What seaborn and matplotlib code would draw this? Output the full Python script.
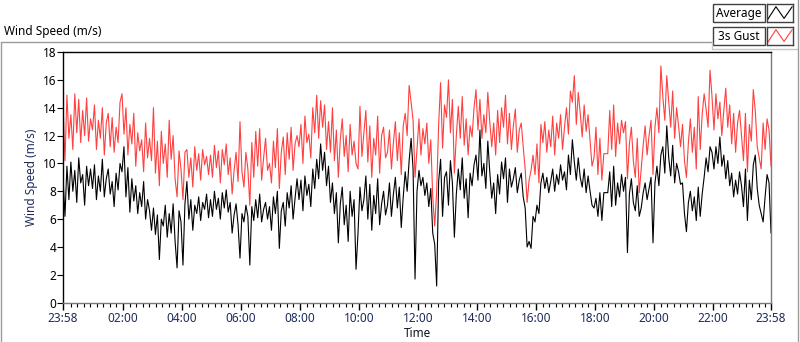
import numpy as np
import pandas as pd
import matplotlib
matplotlib.use("Agg")
import matplotlib.pyplot as plt
import seaborn as sns
from matplotlib.patches import Rectangle
from matplotlib.lines import Line2D

# one sample every 4 minutes, minutes after 23:58
minutes = list(range(0, 1441, 4))

# 10-min average wind speed (m/s)
avg_speed = [
    9.0, 6.2, 9.8, 7.4, 10.1, 8.0, 9.5, 7.2, 10.4, 8.6, 9.2, 7.0, 9.8, 8.4, 9.6,      # 23:58
    8.2, 9.9, 7.4, 9.1, 8.0, 10.3, 7.6, 8.9, 9.6, 7.8, 8.7, 6.9, 9.3, 8.1, 10.0,      # 00:58
    9.4, 11.2, 7.6, 9.7, 6.5, 8.9, 7.3, 8.4, 6.4, 7.9, 6.9, 8.7, 6.0, 7.4, 6.6,       # 01:58
    5.2, 6.8, 4.9, 6.3, 3.1, 6.0, 5.5, 7.0, 4.7, 6.4, 5.0, 7.1, 4.4, 2.5, 6.6,        # 02:58
    5.8, 2.7, 7.1, 8.7, 6.0, 7.4, 5.2, 7.0, 6.4, 7.6, 5.9, 7.2, 6.7, 7.8, 6.1,        # 03:58
    7.4, 6.2, 8.0, 6.7, 7.5, 6.0, 7.9, 6.8, 8.1, 6.5, 7.2, 5.0, 6.3, 7.1, 5.6,        # 04:58
    3.2, 6.4, 5.8, 7.0, 6.2, 2.7, 6.9, 5.9, 7.4, 6.1, 7.8, 5.8, 6.7, 7.2, 6.0,        # 05:58
    6.9, 5.2, 7.6, 6.4, 8.0, 3.9, 6.6, 7.2, 5.5, 7.9, 6.8, 8.4, 6.0, 7.5, 8.9,        # 06:58
    7.4, 8.8, 6.6, 9.1, 7.7, 8.5, 6.9, 9.6, 8.2, 10.3, 8.9, 11.4, 9.5, 10.8, 8.4,     # 07:58
    9.8, 7.2, 8.6, 6.4, 7.9, 4.3, 7.1, 8.3, 5.6, 7.0, 4.4, 8.0, 6.2, 7.4, 2.4,        # 08:58
    5.0, 8.3, 6.6, 7.4, 9.1, 6.0, 8.5, 5.2, 7.7, 6.4, 8.9, 5.6, 7.1, 8.0, 6.3,        # 09:58
    7.0, 8.6, 6.2, 7.8, 9.0, 6.8, 8.3, 5.4, 7.6, 9.4, 8.0, 10.2, 11.8, 9.6, 1.7,      # 10:58
    8.0, 9.5, 8.4, 9.0, 7.7, 8.6, 6.9, 8.2, 5.0, 4.2, 1.2, 8.7, 10.3, 6.2, 9.0,       # 11:58
    9.4, 7.0, 10.2, 8.6, 4.7, 7.8, 9.6, 8.1, 10.4, 7.5, 8.9, 6.1, 9.3, 8.4, 9.9,      # 12:58
    10.6, 8.8, 12.4, 9.1, 10.0, 8.2, 11.6, 9.4, 7.5, 8.6, 6.4, 9.2, 7.8, 10.1, 8.9,   # 13:58
    10.4, 7.2, 9.6, 8.3, 8.9, 9.7, 7.9, 8.8, 9.3, 7.6, 6.8, 4.0, 4.4, 3.9, 6.2,       # 14:58
    5.8, 7.0, 6.4, 8.6, 9.3, 8.2, 9.0, 7.9, 8.7, 9.6, 8.0, 9.2, 8.5, 9.9, 8.8,        # 15:58
    9.4, 8.1, 10.6, 9.2, 11.7, 10.1, 8.8, 10.4, 9.0, 8.3, 9.6, 7.9, 9.1, 8.0, 7.0,    # 16:58
    6.8, 7.5, 6.2, 7.9, 5.9, 7.9, 7.9, 7.9, 9.4, 6.9, 9.8, 7.0, 8.6, 7.6, 9.2,        # 17:58
    8.0, 9.0, 3.6, 7.8, 8.9, 7.2, 6.6, 8.4, 6.2, 6.8, 7.9, 8.6, 7.4, 8.2, 9.0,        # 18:58
    4.3, 8.6, 9.8, 8.4, 10.6, 11.2, 9.3, 12.7, 10.4, 9.1, 11.3, 8.6, 10.0, 9.4, 8.5,  # 19:58
    8.6, 6.4, 5.1, 7.2, 8.0, 6.6, 7.6, 5.9, 8.3, 6.2, 7.8, 9.0, 10.4, 9.4, 11.2,      # 20:58
    10.8, 9.6, 11.2, 10.0, 11.9, 9.8, 10.6, 8.9, 10.2, 8.4, 9.3, 7.6, 8.8, 7.8, 9.4,  # 21:58
    8.4, 6.9, 9.6, 5.9, 8.8, 7.4, 9.9, 10.6, 8.2, 7.0, 6.4, 5.8, 7.6, 9.2, 8.6, 5.0,  # 22:58
]

# 3 s gust wind speed (m/s)
gust_speed = [
    14.3, 10.2, 14.9, 11.8, 13.5, 11.0, 15.0, 12.2, 14.6, 11.5, 13.8, 12.0, 14.7, 11.6, 13.2,
    12.4, 14.2, 11.0, 13.1, 11.8, 14.0, 10.6, 12.9, 13.6, 11.2, 13.3, 10.8, 12.6, 11.5, 14.4,
    15.0, 12.1, 14.0, 10.6, 12.8, 11.4, 13.6, 9.8, 12.2, 10.9, 11.7, 9.4, 12.9, 10.4, 11.8,
    10.2, 14.0, 9.3, 11.6, 8.4, 12.3, 10.0, 11.4, 9.0, 13.1, 10.3, 12.0, 8.9, 7.6, 10.9,
    9.6, 7.4, 10.8, 11.0, 9.0, 10.4, 8.3, 11.2, 9.5, 10.7, 8.8, 11.0, 9.9, 10.5, 9.2,
    10.6, 9.0, 11.3, 9.7, 10.9, 8.6, 11.0, 9.9, 11.4, 9.2, 10.4, 7.8, 9.5, 10.8, 8.7,
    13.0, 9.4, 8.3, 10.8, 9.6, 7.0, 11.5, 9.0, 12.3, 9.8, 12.5, 8.8, 10.4, 11.8, 9.5,
    10.0, 8.6, 11.6, 9.7, 12.5, 8.2, 10.8, 11.9, 9.2, 12.2, 10.3, 12.6, 9.5, 11.4, 12.0,
    11.2, 12.8, 10.0, 13.4, 11.5, 12.1, 10.4, 14.0, 12.2, 14.9, 11.8, 14.5, 12.6, 14.2, 11.0,
    13.0, 10.8, 14.0, 10.2, 12.4, 9.0, 11.7, 13.2, 10.5, 12.0, 9.4, 12.8, 10.6, 11.6, 10.0,
    9.6, 14.1, 10.5, 12.2, 13.8, 10.1, 12.7, 9.0, 11.8, 10.6, 13.4, 9.3, 12.0, 12.6, 10.4,
    10.8, 12.4, 9.6, 11.5, 13.0, 10.2, 12.2, 9.2, 12.7, 13.6, 12.0, 15.6, 14.4, 13.1, 9.0,
    11.0, 13.2, 10.6, 12.5, 11.4, 12.9, 10.0, 11.7, 7.6, 5.5, 8.0, 12.8, 15.8, 11.1, 14.2,
    13.3, 16.0, 12.2, 14.6, 9.3, 12.0, 14.1, 11.8, 14.8, 11.3, 13.2, 10.6, 12.7, 11.9, 14.0,
    15.3, 12.4, 14.6, 11.8, 13.5, 12.2, 15.1, 13.0, 11.2, 12.9, 10.6, 13.8, 11.5, 14.0, 12.6,
    14.9, 11.4, 13.6, 11.0, 12.7, 13.9, 10.8, 12.4, 12.9, 11.2, 9.6, 7.2, 8.8, 9.5, 10.6,
    9.2, 11.4, 8.6, 12.8, 11.5, 13.0, 10.8, 12.4, 11.2, 13.4, 10.6, 12.9, 11.8, 13.5, 11.0,
    12.6, 14.0, 12.1, 15.2, 14.4, 16.3, 12.8, 15.1, 13.6, 11.9, 14.2, 12.3, 13.5, 11.6, 9.8,
    10.4, 12.6, 9.2, 11.8, 8.8, 10.7, 10.7, 10.7, 13.8, 11.0, 14.2, 10.5, 12.9, 11.4, 13.1,
    12.2, 13.0, 8.9, 11.4, 12.6, 10.2, 9.0, 11.8, 7.9, 9.6, 11.3, 12.7, 10.6, 12.0, 13.1,
    9.2, 12.6, 14.0, 12.2, 17.0, 14.8, 13.1, 16.3, 14.4, 12.6, 15.2, 11.8, 14.0, 12.7, 11.2,
    12.8, 10.2, 9.0, 11.5, 13.2, 10.8, 12.6, 9.6, 14.8, 11.0, 13.5, 15.0, 13.9, 12.6, 16.7,
    14.8, 12.4, 15.0, 13.2, 14.4, 12.0, 13.8, 15.4, 12.6, 14.2, 11.4, 13.6, 10.8, 12.9, 13.8,
    12.0, 10.2, 13.6, 9.4, 12.8, 11.6, 15.3, 13.8, 11.2, 10.4, 9.6, 12.9, 11.0, 13.2, 12.4, 9.8,
]

tick_minutes = [0, 122, 242, 362, 482, 602, 722, 842, 962, 1082, 1202, 1322, 1440]
tick_labels = ["23:58", "02:00", "04:00", "06:00", "08:00", "10:00", "12:00",
               "14:00", "16:00", "18:00", "20:00", "22:00", "23:58"]
y_ticks = [0, 2, 4, 6, 8, 10, 12, 14, 16, 18]
legend_names = ["Average", "3s Gust"]
legend_colors = ["black", "#ff4040"]
icon_shape = [0.15, 0.85, 0.2, 0.85]   # zig-zag drawn in the legend swatches

df = pd.DataFrame({"minutes": minutes, "Average": avg_speed, "3s Gust": gust_speed})

sns.set_theme(style="white")
plt.rcParams["font.family"] = ["Noto Sans", "DejaVu Sans"]
label_blue = "#1d2b5a"

W, H = 800, 342
def fx(px):
    return px / W
def fy(py):
    return 1 - py / H

fig = plt.figure(figsize=(8, 3.42), dpi=100)
ax = fig.add_axes([fx(63), fy(302.7), fx(771) - fx(63), fy(52) - fy(302.7)])

sns.lineplot(data=df, x="minutes", y="3s Gust", color="#ff4040", linewidth=0.8, ax=ax)
sns.lineplot(data=df, x="minutes", y="Average", color="black", linewidth=0.8, ax=ax)

ax.set_xlim(0, 1440)
ax.set_ylim(0, 18)
ax.set_xticks(tick_minutes)
ax.set_xticklabels(tick_labels)
minor = np.arange(122 - 8 * 120 / 9, 1440, 120 / 9)
ax.set_xticks([m for m in minor if 5 < m < 1435], minor=True)
ax.set_yticks(y_ticks)

ax.tick_params(axis="x", which="major", length=5, width=1, color="black", direction="out",
               labelsize=8.5, labelcolor=label_blue, pad=2, bottom=True)
ax.tick_params(axis="x", which="minor", length=3, width=0.8, color="black", direction="out", bottom=True)
ax.tick_params(axis="y", length=4, width=0.8, color="black", direction="out",
               labelsize=8.5, labelcolor="black", pad=1, left=True)

ax.set_xlabel("Time", fontsize=8.5, color="#101820", labelpad=1)
ax.set_ylabel("Wind Speed (m/s)", fontsize=8.5, color=label_blue, labelpad=3)

for side in ["top", "left"]:
    ax.spines[side].set_color("black")
    ax.spines[side].set_linewidth(1)
for side in ["right", "bottom"]:
    ax.spines[side].set_color("#7a7a7a")
    ax.spines[side].set_linewidth(1)

# chart title and outer frame
fig.text(fx(4), fy(32), "Wind Speed (m/s)", fontsize=8.5, va="center", ha="left", color="black")
frame = "#9a9a9a"
fig.add_artist(Line2D([fx(1), fx(1)], [fy(341), fy(42)], color=frame, lw=1))
fig.add_artist(Line2D([fx(1), fx(712)], [fy(42), fy(42)], color=frame, lw=1))
fig.add_artist(Line2D([fx(712), fx(712)], [fy(42), fy(49)], color="#c8c8c8", lw=1))
fig.add_artist(Line2D([fx(712), fx(798)], [fy(49), fy(49)], color="#c8c8c8", lw=1))
fig.add_artist(Line2D([fx(798), fx(798)], [fy(0), fy(341)], color=frame, lw=1))

# legend: name box + swatch box per series
for i, (name, col) in enumerate(zip(legend_names, legend_colors)):
    top = 4 + 23 * i
    fig.add_artist(Rectangle((fx(713), fy(top + 18)), fx(765) - fx(713), fy(top) - fy(top + 18),
                             transform=fig.transFigure, facecolor="white", edgecolor="#404040", lw=1))
    fig.text(fx(739), fy(top + 9), name, fontsize=8.5, ha="center", va="center", color="black")
    iax = fig.add_axes([fx(767), fy(top + 18), fx(793) - fx(767), fy(top) - fy(top + 18)])
    iax.plot(range(len(icon_shape)), icon_shape, color=col, lw=0.8)
    iax.set_xlim(-0.1, len(icon_shape) - 0.9)
    iax.set_ylim(0, 1)
    iax.set_xticks([])
    iax.set_yticks([])
    for s in iax.spines.values():
        s.set_color("#404040")
        s.set_linewidth(1)

fig.savefig("out.png", dpi=100)
